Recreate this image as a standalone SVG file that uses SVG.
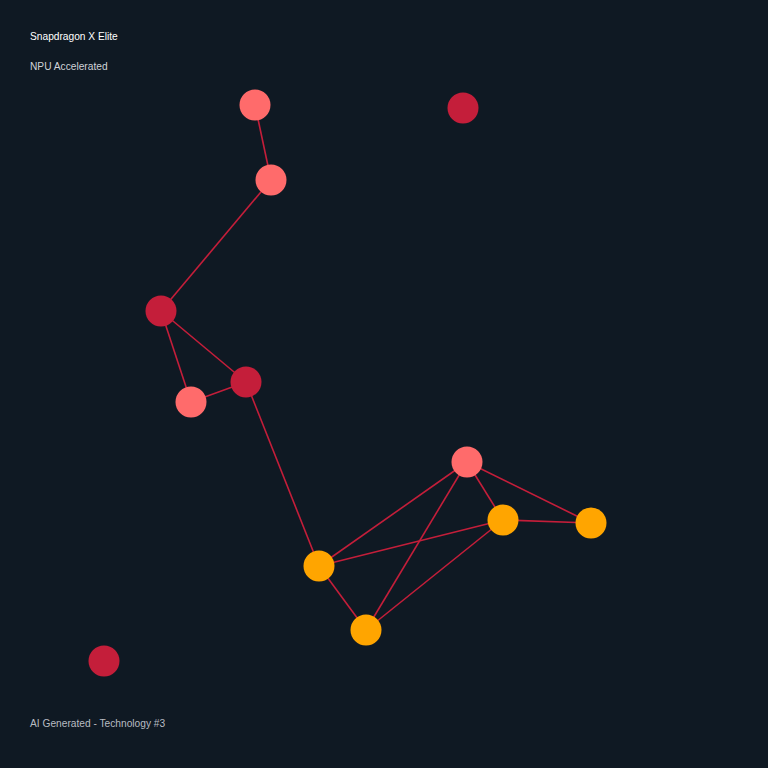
<svg xmlns="http://www.w3.org/2000/svg" width="768" height="768" viewBox="0 0 768 768">
<style>
.e{stroke:#c41e3a;stroke-width:1.6;fill:none}
.crimson{fill:#c41e3a}
.pink{fill:#ff6b6b}
.orange{fill:#ffa500}
.t{font-family:"Liberation Sans",Arial,sans-serif;font-size:10.2px}
</style>
<rect width="768" height="768" fill="#0f1923"/>
<text class="t" x="30" y="40" fill="#ffffff">Snapdragon X Elite</text>
<text class="t" x="30" y="70" fill="#cfd3d8">NPU Accelerated</text>
<text class="t" x="30" y="727" fill="#b8bcc2">AI Generated - Technology #3</text>
<g id="connectors">
<line class="e" x1="255" y1="105" x2="271" y2="180"/>
<line class="e" x1="271" y1="180" x2="161" y2="311"/>
<line class="e" x1="161" y1="311" x2="246" y2="382"/>
<line class="e" x1="161" y1="311" x2="191" y2="402"/>
<line class="e" x1="191" y1="402" x2="246" y2="382"/>
<line class="e" x1="246" y1="382" x2="319" y2="566"/>
<line class="e" x1="467" y1="462" x2="319" y2="566"/>
<line class="e" x1="467" y1="462" x2="366" y2="630"/>
<line class="e" x1="467" y1="462" x2="503" y2="520"/>
<line class="e" x1="467" y1="462" x2="591" y2="523"/>
<line class="e" x1="503" y1="520" x2="591" y2="523"/>
<line class="e" x1="319" y1="566" x2="503" y2="520"/>
<line class="e" x1="503" y1="520" x2="366" y2="630"/>
<line class="e" x1="319" y1="566" x2="366" y2="630"/>
</g>
<g id="n1"><circle class="pink" cx="255" cy="105" r="15.5"/></g>
<g id="n2"><circle class="crimson" cx="463" cy="108" r="15.5"/></g>
<g id="n3"><circle class="pink" cx="271" cy="180" r="15.5"/></g>
<g id="n4"><circle class="crimson" cx="161" cy="311" r="15.5"/></g>
<g id="n5"><circle class="crimson" cx="246" cy="382" r="15.5"/></g>
<g id="n6"><circle class="pink" cx="191" cy="402" r="15.5"/></g>
<g id="n7"><circle class="pink" cx="467" cy="462" r="15.5"/></g>
<g id="n8"><circle class="orange" cx="503" cy="520" r="15.5"/></g>
<g id="n9"><circle class="orange" cx="591" cy="523" r="15.5"/></g>
<g id="n10"><circle class="orange" cx="319" cy="566" r="15.5"/></g>
<g id="n11"><circle class="orange" cx="366" cy="630" r="15.5"/></g>
<g id="n12"><circle class="crimson" cx="104" cy="661" r="15.5"/></g>
</svg>
